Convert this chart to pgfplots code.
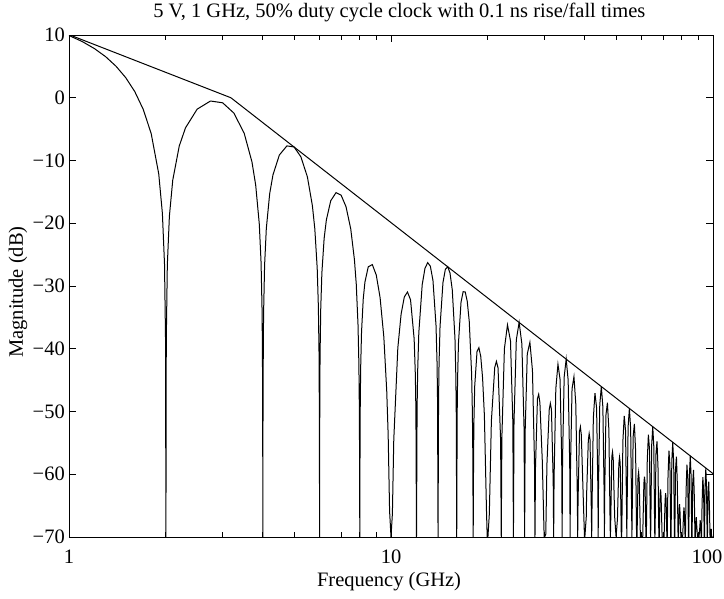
\documentclass[border=0pt]{standalone}
\usepackage{fontspec}
\setmainfont{Liberation Serif}
\usepackage{pgfplots}
\pgfplotsset{compat=1.18}
\begin{document}
\begin{tikzpicture}
\useasboundingbox (-69pt,-61pt) rectangle (655pt,537pt);
\begin{axis}[
  scale only axis, width=644pt, height=502pt,
  xmode=log, xmin=1, xmax=100, ymin=-70, ymax=10,
  xtick={1,10,100}, xticklabels={1,10,{\makebox[0pt]{\hspace*{-12pt}100}}},
  minor xtick={2,3,4,5,6,7,8,9,20,30,40,50,60,70,80,90},
  ytick={-70,-60,-50,-40,-30,-20,-10,0,10},
  yticklabels={−70,−60,−50,−40,−30,−20,−10,0,10},
  tick align=inside,
  major tick length=7pt, minor tick length=5pt,
  every tick/.style={black, line width=0.9pt},
  axis line style={black, line width=0.9pt},
  tick label style={font=\fontsize{20.5}{24}\selectfont},
  xticklabel style={inner sep=0pt, yshift=-13pt},
  yticklabel style={inner sep=0pt, xshift=-4pt},
  label style={font=\fontsize{20.5}{24}\selectfont},
  xlabel={Frequency (GHz)},
  ylabel={Magnitude (dB)},
  xlabel style={at={(axis description cs:0.497,-0.0896)}, anchor=center},
  ylabel style={at={(axis description cs:-0.0792,0.488)}, anchor=center, rotate=0},
  title={5 V, 1 GHz, 50\% duty cycle clock with 0.1 ns rise/fall times},
  title style={at={(axis description cs:0.513,1.032)}, anchor=center, font=\fontsize{20.5}{24}\selectfont},
]
\addplot[black, line width=1pt] coordinates {
(1,9.92) (1.1,8.95) (1.2,7.83) (1.3,6.54) (1.4,5.02) (1.5,3.21) (1.6,1.00) (1.7,-1.83) (1.8,-5.71) (1.9,-12.14) (1.95,-18.40) (1.98,-26.50) (1.995,-38.62) (2,-70)
(2.005,-38.66) (2.02,-26.69) (2.05,-18.89) (2.1,-13.13) (2.2,-7.69) (2.3,-4.80) (2.5,-1.82) (2.75,-0.52) (3,-0.80) (3.25,-2.43) (3.5,-5.65) (3.7,-10.22) (3.8,-13.90) (3.9,-20.16) (3.95,-26.33) (3.98,-34.39) (3.995,-46.48) (4,-70)
(4.005,-46.52) (4.02,-34.53) (4.05,-26.68) (4.1,-20.85) (4.2,-15.29) (4.3,-12.29) (4.5,-9.13) (4.75,-7.67) (5,-7.84) (5.25,-9.41) (5.5,-12.61) (5.7,-17.19) (5.8,-20.90) (5.9,-27.17) (5.95,-33.36) (5.98,-41.43) (5.995,-53.53) (6,-70)
(6.005,-53.56) (6.02,-41.57) (6.05,-33.74) (6.1,-27.93) (6.2,-22.41) (6.3,-19.46) (6.5,-16.41) (6.75,-15.12) (7,-15.52) (7.25,-17.36) (7.5,-20.90) (7.7,-25.79) (7.8,-29.67) (7.9,-36.15) (7.95,-42.44) (7.98,-50.56) (7.995,-62.69) (8,-70)
(8.005,-62.75) (8.02,-50.80) (8.05,-43.03) (8.1,-37.33) (8.2,-32.05) (8.3,-29.37) (8.5,-26.93) (8.75,-26.59) (9,-28.25) (9.25,-31.86) (9.5,-38.11) (9.7,-46.74) (9.8,-53.77) (9.9,-65.88) (10,-70)
(10.1,-66.29) (10.2,-54.52) (10.5,-39.87) (10.75,-34.48) (11,-31.74) (11.25,-30.96) (11.5,-32.20) (11.8,-38.42) (11.9,-44.07) (11.95,-49.96) (12,-70)
(12.05,-49.71) (12.1,-43.60) (12.2,-37.48) (12.5,-29.79) (12.75,-27.18) (13,-26.28) (13.25,-26.84) (13.5,-29.12) (13.8,-36.34) (13.9,-42.28) (13.95,-48.30) (14,-70)
(14.05,-48.32) (14.1,-42.34) (14.2,-36.47) (14.5,-29.46) (14.75,-27.35) (15,-26.92) (15.25,-27.93) (15.5,-30.62) (15.8,-38.33) (15.9,-44.42) (15.95,-50.52) (16,-70)
(16.05,-50.72) (16.1,-44.82) (16.2,-39.11) (16.5,-32.60) (16.75,-30.91) (17,-30.94) (17.25,-32.43) (17.5,-35.63) (17.8,-44.03) (17.9,-50.38) (17.95,-56.61) (18,-70)
(18.05,-57.08) (18.1,-51.32) (18.2,-45.92) (18.5,-40.44) (18.75,-39.83) (19,-41.23) (19.25,-44.59) (19.5,-50.61) (19.8,-66.00) (19.9,-70) (20,-70)
(20.2,-66.35) (20.5,-51.48) (21,-42.97) (21.25,-42.01) (21.5,-43.05) (21.9,-54.62) (22,-70)
(22.1,-54.03) (22.5,-39.99) (23,-36.19) (23.5,-38.74) (23.9,-51.67) (24,-70)
(24.1,-51.63) (24.5,-38.57) (25,-35.80) (25.5,-39.27) (25.9,-52.89) (26,-70)
(26.1,-53.19) (26.5,-40.82) (27,-38.97) (27.5,-43.47) (27.9,-58.07) (28,-70)
(28.1,-58.95) (28.5,-47.95) (28.75,-47.26) (29,-48.58) (29.5,-57.80) (29.9,-70) (30,-70)
(30.25,-69.56) (30.5,-58.37) (31,-49.73) (31.25,-48.70) (31.5,-49.68) (31.9,-61.14) (32,-70)
(32.1,-60.51) (32.5,-46.38) (33,-42.46) (33.5,-44.89) (33.9,-57.73) (34,-70)
(34.1,-57.65) (34.5,-44.51) (35,-41.64) (35.5,-45.01) (35.9,-58.55) (36,-70)
(36.1,-58.83) (36.5,-46.39) (37,-44.45) (37.5,-48.86) (37.9,-63.39) (38,-70)
(38.1,-64.23) (38.5,-53.17) (38.75,-52.44) (39,-53.72) (39.5,-62.86) (39.9,-70) (40,-70)
(40.4,-66.80) (40.5,-63.30) (41,-54.59) (41.25,-53.53) (41.5,-54.47) (41.9,-65.88) (42,-70)
(42.1,-65.22) (42.5,-51.04) (43,-47.06) (43.5,-49.43) (43.9,-62.22) (44,-70)
(44.1,-62.12) (44.5,-48.94) (45,-46.01) (45.5,-49.32) (45.9,-62.82) (46,-70)
(46.1,-63.07) (46.5,-50.59) (47,-48.60) (47.5,-52.96) (47.9,-67.45) (48,-70)
(48.1,-68.28) (48.5,-57.18) (48.75,-56.43) (49,-57.69) (49.5,-66.79) (50,-70)
(50.5,-67.13) (51,-58.38) (51.25,-57.30) (51.5,-58.22) (51.9,-69.60) (52,-70)
(52.1,-68.92) (52.5,-54.71) (53,-50.69) (53.5,-53.02) (53.9,-65.78) (54,-70)
(54.1,-65.67) (54.5,-52.45) (55,-49.49) (55.5,-52.77) (55.9,-66.23) (56,-70)
(56.1,-66.49) (56.5,-53.98) (57,-51.96) (57.5,-56.29) (57.9,-70) (58.1,-70)
(58.5,-60.43) (58.75,-59.67) (59,-60.91) (59.5,-69.98) (60,-70)
(60.5,-70) (61,-61.49) (61.25,-60.39) (61.5,-61.30) (61.9,-70) (62.1,-70)
(62.5,-57.73) (63,-53.69) (63.5,-56.00) (63.9,-68.74) (64,-70)
(64.1,-68.62) (64.5,-55.39) (65,-52.40) (65.5,-55.65) (65.9,-69.10) (66,-70)
(66.1,-69.33) (66.5,-56.80) (67,-54.76) (67.5,-59.07) (67.9,-70) (68.1,-70)
(68.5,-63.17) (68.75,-62.40) (69,-63.63) (69.5,-70)
(70.5,-70) (71,-64.13) (71.25,-63.02) (71.5,-63.92) (71.9,-70) (72.1,-70)
(72.5,-60.31) (73,-56.25) (73.5,-58.54) (73.9,-70) (74.1,-70)
(74.5,-57.88) (75,-54.88) (75.5,-58.12) (75.9,-70) (76.1,-70)
(76.5,-59.24) (77,-57.18) (77.5,-61.47) (77.9,-70) (78.1,-70)
(78.5,-65.55) (78.75,-64.77) (79,-65.99) (79.5,-70)
(80.5,-70) (81,-66.42) (81.25,-65.30) (81.5,-66.20) (81.9,-70) (82.1,-70)
(82.5,-62.56) (83,-58.48) (83.5,-60.75) (83.9,-70) (84.1,-70)
(84.5,-60.08) (85,-57.06) (85.5,-60.28) (85.9,-70) (86.1,-70)
(86.5,-61.37) (87,-59.30) (87.5,-63.58) (87.9,-70) (88.1,-70)
(88.5,-67.63) (88.75,-66.84) (89,-68.06) (89.5,-70)
(90.5,-70) (91,-68.44) (91.25,-67.32) (91.5,-68.21) (91.9,-70) (92.1,-70)
(92.5,-64.55) (93,-60.46) (93.5,-62.72) (93.9,-70) (94.1,-70)
(94.5,-62.02) (95,-58.99) (95.5,-62.20) (95.9,-70) (96.1,-70)
(96.5,-63.27) (97,-61.19) (97.5,-65.46) (97.9,-70) (98.1,-70)
(98.5,-69.49) (98.75,-68.70) (99,-69.91) (99.5,-70) (100,-70)
};
\addplot[black, line width=1pt] coordinates {(1,10.06) (3.183,0) (100,-59.9)};
\end{axis}
\end{tikzpicture}
\end{document}
